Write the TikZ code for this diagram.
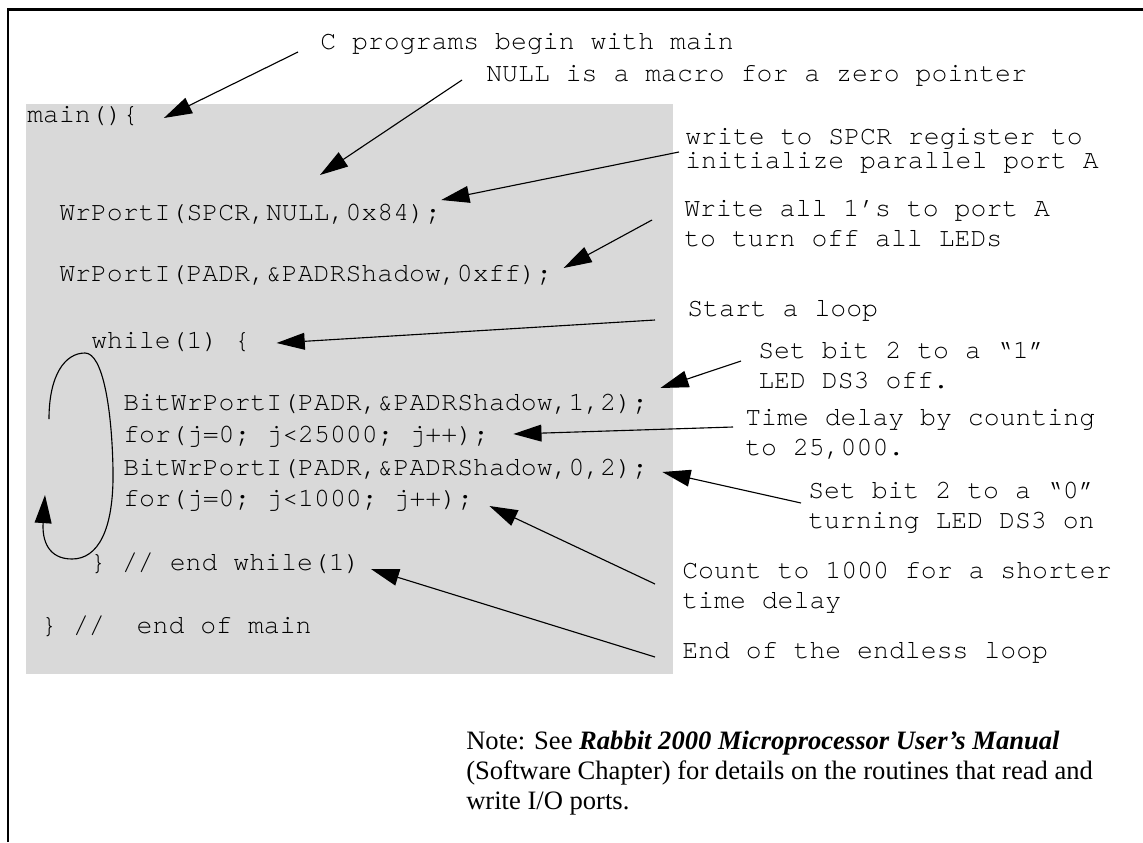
\documentclass[tikz,border=0pt]{standalone}
\usepackage{fontspec}
\setmainfont{Liberation Serif}
\setmonofont{TeX Gyre Cursor}[Ligatures=NoCommon]
\usepackage{xcolor}
\usetikzlibrary{arrows.meta,calc}
\definecolor{codegray}{RGB}{217,217,217}

\begin{document}
\begin{tikzpicture}[x=0.025cm,y=-0.025cm,
  code/.style={font=\ttfamily\fontsize{18.85}{21.3}\selectfont, inner sep=0pt, anchor=base west},
  remark/.style={font=\ttfamily\fontsize{18.85}{21.3}\selectfont, align=left, inner sep=0pt, anchor=base west},
  note/.style={font=\rmfamily\fontsize{18.9}{21}\selectfont, align=left, inner sep=0pt, anchor=base west},
  pointer/.style={-{Triangle[length=20pt,width=12pt]}, line width=0.8pt}]

\useasboundingbox (0,0) rectangle (1143,842);

% Rahmen
\draw[line width=2.1pt] (8,842) -- (8,9.5) -- (1143,9.5);

% Grauer Hintergrund fuer den Code
\fill[codegray] (26,104) rectangle (673,674);

% Code
\node[code] (mainl) at (27,122) {main()\{};
\node[code] (wrspcr) at (59,220) {WrPortI(SPCR,NULL,0x84);};
\node[code] (wrpadr) at (59,281) {WrPortI(PADR,\&PADRShadow,0xff);};
\node[code] (whilel) at (91,348) {while(1) \{};
\node[code] (bitwr1) at (123,410) {BitWrPortI(PADR,\&PADRShadow,1,2);};
\node[code] (delayl) at (123,442) {for(j=0; j<25000; j++);};
\node[code] (bitwr0) at (123,475) {BitWrPortI(PADR,\&PADRShadow,0,2);};
\node[code] (shortl) at (123,506) {for(j=0; j<1000; j++);};
\node[code] (endwhile) at (90,570) {\} // end while(1)};
\node[code] (endmain) at (41,633) {\} //\ \ end of main};

% Kommentare (base = letzte Zeile)
\node[remark] (cprog) at (320,49) {C programs begin with main};
\node[remark] (nullm) at (486,81) {NULL is a macro for a zero pointer};
\node[remark, font=\ttfamily\fontsize{18.85}{16.4}\selectfont] (spcrnote) at (685,168)
  {write to SPCR register to\\initialize parallel port A};
\node[remark] (allones) at (684,246) {Write all 1’s to port A\\to turn off all LEDs};
\node[remark] (startloop) at (687,316) {Start a loop};
\node[remark] (bitone) at (758,388) {Set bit 2 to a “1”\\LED DS3 off.};
\node[remark] (delay) at (745,455) {Time delay by counting\\to 25,000.};
\node[remark] (bitzero) at (808,528) {Set bit 2 to a “0”\\turning LED DS3 on};
\node[remark] (count) at (682,608) {Count to 1000 for a shorter\\time delay};
\node[remark] (endloop) at (682,658) {End of the endless loop};

% Hinweis
\node[note] (manualnote) at (466,809) {Note: See \textbf{\textit{Rabbit 2000 Microprocessor User’s Manual}}\\
  (Software Chapter) for details on the routines that read and\\
  write I/O ports.};

% Pfeile
\draw[pointer] ($(cprog.base west)+(-22,3)$) -- ($(mainl.base east)+(25,-4)$);
\draw[pointer] ($(nullm.base west)+(-24,-1)$) -- ($(wrspcr.base west)+(261,-45)$);
\draw[pointer] ($(spcrnote.base west)+(-6,-16)$) -- ($(wrspcr.base east)+(0,-20)$);
\draw[pointer] ($(allones.base west)+(-32,-26)$) -- ($(wrpadr.base east)+(11,-13)$);
\draw[pointer] ($(startloop.base west)+(-32,4)$) -- ($(whilel.base east)+(26,-5)$);
\draw[pointer] ($(bitone.base west)+(-17,-27)$) -- ($(bitwr1.base east)+(12,-22)$);
\draw[pointer] ($(delay.base west)+(-12,-28)$) -- ($(delayl.base east)+(24,-8)$);
\draw[pointer] ($(bitzero.base west)+(-7,-25)$) -- ($(bitwr0.base east)+(14,-3)$);
\draw[pointer] ($(count.base west)+(-27,-24)$) -- ($(shortl.base east)+(16,0)$);
\draw[pointer] ($(endloop.base west)+(-27,-1)$) -- ($(endwhile.base east)+(10,-1)$);

% Schleife
\coordinate (loopfree) at (49,419);
\coordinate (looptip) at (45,495);
\draw[pointer] (loopfree) .. controls (49,375) and (65,353) .. (85,353)
  .. controls (103,353) and (112,410) .. (113,470)
  .. controls (114,530) and (98,559) .. (72,559)
  .. controls (48,559) and (42,540) .. (looptip);
\end{tikzpicture}
\end{document}
